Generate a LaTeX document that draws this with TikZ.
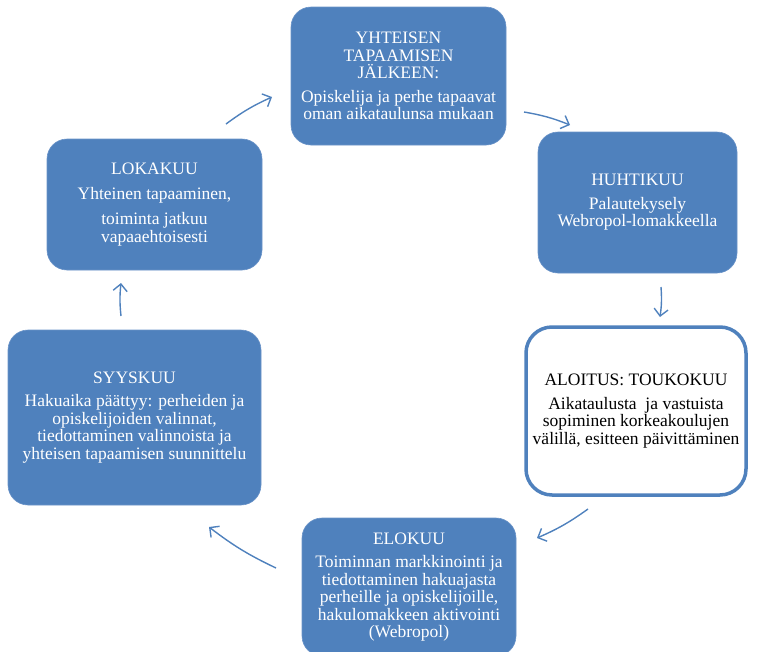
\documentclass[tikz,border=0pt]{standalone}
\usepackage{fontspec}
\setmainfont{Liberation Serif}
\usetikzlibrary{arrows.meta}

\definecolor{boxblue}{HTML}{4F81BD}
\definecolor{rimblue}{HTML}{6A93C8}

\tikzset{
	phase/.style={rectangle, rounded corners=20pt, fill=boxblue, draw=rimblue, line width=0.6pt,
		text=white, align=center, font=\fontsize{17.5}{17.5}\selectfont, inner sep=0pt},
	startphase/.style={phase, fill=white, draw=boxblue, line width=3.5pt, text=black, rounded corners=26pt},
	flow/.style={draw=boxblue, line width=1.4pt, -{Straight Barb[length=7pt, width=14pt, line width=1.4pt]}}
}

\begin{document}
\begin{tikzpicture}[x=1pt, y=-1pt]

		\useasboundingbox (0,0) rectangle (758,651);

		\node[phase, minimum width=215pt, minimum height=138pt] (jalkeen) at (398.5,76)
			{YHTEISEN\\TAPAAMISEN\\J\"ALKEEN:\\[6pt]Opiskelija ja perhe tapaavat\\oman aikataulunsa mukaan};
		\node[phase, minimum width=199pt, minimum height=141pt] (huhti) at (637.5,202.5)
			{HUHTIKUU\\[6pt]Palautekysely\\Webropol-lomakkeella};
		\node[startphase, minimum width=220pt, minimum height=168pt] (aloitus) at (636,411)
			{ALOITUS: TOUKOKUU\\[6pt]Aikataulusta\ \ ja vastuista\\sopiminen korkeakoulujen\\v\"alill\"a, esitteen p\"aivitt\"aminen};
		\node[phase, minimum width=214pt, minimum height=138pt] (elo) at (409,587)
			{ELOKUU\\[6pt]Toiminnan markkinointi ja\\tiedottaminen hakuajasta\\perheille ja opiskelijoille,\\hakulomakkeen aktivointi\\(Webropol)};
		\node[phase, minimum width=253pt, minimum height=175pt] (syys) at (134.5,417.5)
			{SYYSKUU\\[6pt]Hakuaika p\"a\"attyy: perheiden ja\\opiskelijoiden valinnat,\\tiedottaminen valinnoista ja\\yhteisen tapaamisen suunnittelu};
		\node[phase, minimum width=215pt, minimum height=131pt] (loka) at (154.5,204.5)
			{LOKAKUU\\[7pt]Yhteinen tapaaminen,\\[8pt]toiminta jatkuu\\vapaaehtoisesti};

		% arrow ends
		\foreach \n / \x / \y in {1s/226/124, 1e/272/97, 2s/524/112, 2e/570/125, 3s/661/287, 3e/660/317,
			4s/588/509, 4e/537/538, 5s/276/568, 5e/209/527, 6s/121/316, 6e/121/283} {
		\coordinate (p\n) at (\x,\y);
		}

		\foreach \a in {1,...,6} {
		\draw[flow] (p\a s) to[bend left=6] (p\a e);
		}

	\end{tikzpicture}
\end{document}
